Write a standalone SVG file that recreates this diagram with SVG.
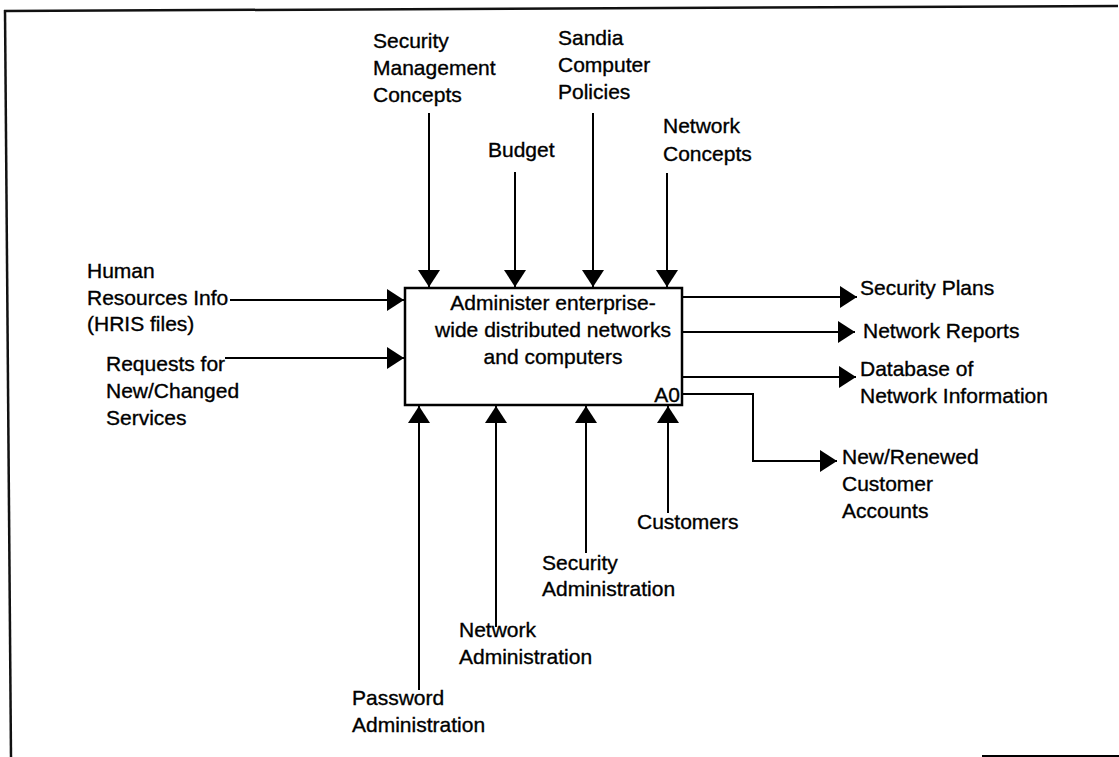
<svg xmlns="http://www.w3.org/2000/svg" width="1119" height="757" viewBox="0 0 1119 757">
<style>
text{font-family:"Liberation Sans",Arial,sans-serif;font-size:21px;fill:#000;stroke:#000;stroke-width:0.35}
.c{stroke:#000;stroke-width:2;fill:none}
.b{stroke:#111;stroke-width:2.5;fill:none}
</style>
<defs>
<marker id="ah" markerUnits="userSpaceOnUse" markerWidth="18" markerHeight="22" refX="17" refY="11" orient="auto">
<path d="M0,0 L17,11 L0,22 z" fill="#000"/>
</marker>
</defs>
<rect width="1119" height="757" fill="#fff"/>
<g id="frame">
<line class="b" x1="4" y1="11" x2="1118" y2="6"/>
<line class="b" x1="5" y1="10" x2="11" y2="757"/>
<line class="c" x1="982" y1="756" x2="1119" y2="756"/>
</g>
<g id="A0">
<rect x="405" y="288" width="277" height="117" fill="#fff" stroke="#000" stroke-width="2.5"/>
<text x="553" y="310" text-anchor="middle">Administer enterprise-</text>
<text x="553" y="337" text-anchor="middle">wide distributed networks</text>
<text x="553" y="364" text-anchor="middle">and computers</text>
<text x="680" y="402" text-anchor="end">A0</text>
</g>
<g id="connectors">
<path class="c" d="M429,113 V287" marker-end="url(#ah)"/>
<path class="c" d="M515,172 V287" marker-end="url(#ah)"/>
<path class="c" d="M593,113 V287" marker-end="url(#ah)"/>
<path class="c" d="M667,173 V287" marker-end="url(#ah)"/>
<path class="c" d="M230,300 H404" marker-end="url(#ah)"/>
<path class="c" d="M225,358 H404" marker-end="url(#ah)"/>
<path class="c" d="M682,297 H857" marker-end="url(#ah)"/>
<path class="c" d="M682,332 H855" marker-end="url(#ah)"/>
<path class="c" d="M682,377 H856" marker-end="url(#ah)"/>
<path class="c" d="M682,394 H753 V461 H837" marker-end="url(#ah)"/>
<path class="c" d="M419,690 V406" marker-end="url(#ah)"/>
<path class="c" d="M496,627 V406" marker-end="url(#ah)"/>
<path class="c" d="M586,553 V406" marker-end="url(#ah)"/>
<path class="c" d="M668,513 V406" marker-end="url(#ah)"/>
</g>
<g id="security-management-concepts">
<text x="373" y="48">Security</text>
<text x="373" y="75">Management</text>
<text x="373" y="102">Concepts</text>
</g>
<g id="budget"><text x="488" y="157">Budget</text></g>
<g id="sandia-computer-policies">
<text x="558" y="45">Sandia</text>
<text x="558" y="72">Computer</text>
<text x="558" y="99">Policies</text>
</g>
<g id="network-concepts">
<text x="663" y="133">Network</text>
<text x="663" y="161">Concepts</text>
</g>
<g id="human-resources-info">
<text x="87" y="278">Human</text>
<text x="87" y="305">Resources Info</text>
<text x="87" y="331">(HRIS files)</text>
</g>
<g id="requests">
<text x="106" y="371">Requests for</text>
<text x="106" y="398">New/Changed</text>
<text x="106" y="425">Services</text>
</g>
<g id="security-plans"><text x="860" y="295">Security Plans</text></g>
<g id="network-reports"><text x="863" y="338">Network Reports</text></g>
<g id="database">
<text x="860" y="376">Database of</text>
<text x="860" y="403">Network Information</text>
</g>
<g id="new-renewed">
<text x="842" y="464">New/Renewed</text>
<text x="842" y="491">Customer</text>
<text x="842" y="518">Accounts</text>
</g>
<g id="customers"><text x="637" y="529">Customers</text></g>
<g id="security-administration">
<text x="542" y="570">Security</text>
<text x="542" y="596">Administration</text>
</g>
<g id="network-administration">
<text x="459" y="637">Network</text>
<text x="459" y="664">Administration</text>
</g>
<g id="password-administration">
<text x="352" y="705">Password</text>
<text x="352" y="732">Administration</text>
</g>
</svg>
